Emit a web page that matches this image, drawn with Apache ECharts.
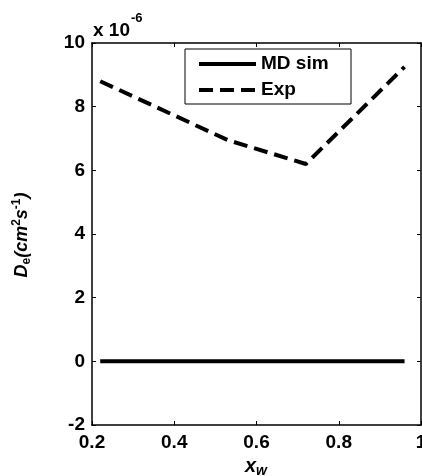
<!DOCTYPE html>
<html>
<head>
<meta charset="utf-8">
<script src="https://cdn.jsdelivr.net/npm/echarts@6/dist/echarts.min.js"></script>
<style>
  html, body { margin: 0; padding: 0; background: #fff; }
  #chart { width: 422px; height: 476px; }
</style>
</head>
<body>
<div id="chart"></div>
<script>
// Water mole fraction samples
const xw = [0.22, 0.53, 0.72, 0.96];
// Diffusion coefficient, in units of 1e-6 cm^2/s
const mdSim = [0, 0, 0, 0];
const expData = [8.8, 6.95, 6.2, 9.25];
const seriesNames = ['MD sim', 'Exp'];
const xTicks = [0.2, 0.4, 0.6, 0.8, 1];
const yTicks = [-2, 0, 2, 4, 6, 8, 10];

const FONT = 'Liberation Sans, Arial, sans-serif';
const chart = echarts.init(document.getElementById('chart'));

const tickLabel = {
  color: '#000', fontFamily: FONT, fontWeight: 'bold', fontSize: 19
};
const axisLine = { show: true, onZero: false, lineStyle: { color: '#000', width: 1.5 } };
const tickIn = { show: true, inside: true, length: 4, lineStyle: { color: '#000', width: 1 } };

chart.setOption({
  backgroundColor: '#fff',
  animation: false,
  grid: { left: 92, right: 1, top: 43, bottom: 51, containLabel: false, outerBoundsMode: 'none' },
  legend: {
    orient: 'vertical',
    left: 185, top: 49,
    padding: [5, 8, 4, 12],
    itemGap: 6,
    itemWidth: 57, itemHeight: 20,
    borderColor: '#000', borderWidth: 1,
    backgroundColor: '#fff',
    data: seriesNames,
    itemStyle: { opacity: 0 },
    lineStyle: { width: 4, cap: 'butt' },
    textStyle: { color: '#000', fontFamily: FONT, fontWeight: 'bold', fontSize: 19, lineHeight: 20, width: 82 }
  },
  xAxis: [
    {
      type: 'value', min: xTicks[0], max: xTicks[xTicks.length - 1], interval: 0.2,
      axisLine, axisTick: tickIn, splitLine: { show: false },
      axisLabel: Object.assign({ margin: 8, formatter: v => (Math.abs(v - 1) < 1e-9 ? '1' : v.toFixed(1)) }, tickLabel)
    },
    {
      type: 'value', position: 'top', min: xTicks[0], max: xTicks[xTicks.length - 1], interval: 0.2,
      axisLine, axisTick: tickIn, splitLine: { show: false }, axisLabel: { show: false }
    }
  ],
  yAxis: [
    {
      type: 'value', min: yTicks[0], max: yTicks[yTicks.length - 1], interval: 2,
      axisLine, axisTick: tickIn, splitLine: { show: false },
      axisLabel: Object.assign({ margin: 7 }, tickLabel)
    },
    {
      type: 'value', position: 'right', min: yTicks[0], max: yTicks[yTicks.length - 1], interval: 2,
      axisLine, axisTick: tickIn, splitLine: { show: false }, axisLabel: { show: false }
    }
  ],
  series: [
    {
      name: seriesNames[0], type: 'line', symbol: 'none',
      data: xw.map((x, i) => [x, mdSim[i]]),
      lineStyle: { color: '#000', width: 4, cap: 'butt' },
      itemStyle: { color: '#000' }
    },
    {
      name: seriesNames[1], type: 'line', symbol: 'none',
      data: xw.map((x, i) => [x, expData[i]]),
      lineStyle: { color: '#000', width: 4, type: [14, 7], cap: 'butt' },
      itemStyle: { color: '#000' }
    }
  ],
  graphic: [
    {
      type: 'text', left: 93, top: 12,
      style: {
        text: '{a|x 10}{s|-6}',
        rich: {
          a: { fontFamily: FONT, fontWeight: 'bold', fontSize: 19, fill: '#000', lineHeight: 28, verticalAlign: 'bottom' },
          s: { fontFamily: FONT, fontWeight: 'bold', fontSize: 13, fill: '#000', lineHeight: 28, verticalAlign: 'top', padding: [0, 0, 0, 1] }
        }
      }
    },
    {
      type: 'text', x: 22, y: 235, rotation: Math.PI / 2,
      style: {
        text: '{m|D}{sb|e}{m|(cm}{sp|2}{m|s}{sp|-1}{m|)}',
        align: 'center', verticalAlign: 'middle',
        rich: {
          m: { fontFamily: FONT, fontWeight: 'bold', fontStyle: 'italic', fontSize: 18, fill: '#000', lineHeight: 22, verticalAlign: 'middle' },
          sb: { fontFamily: FONT, fontWeight: 'bold', fontSize: 12, fill: '#000', lineHeight: 12, verticalAlign: 'bottom' },
          sp: { fontFamily: FONT, fontWeight: 'bold', fontSize: 12, fill: '#000', lineHeight: 12, verticalAlign: 'top' }
        }
      }
    },
    {
      type: 'text', x: 256, y: 466,
      style: {
        text: '{m|x}{sb|w}',
        align: 'center', verticalAlign: 'middle',
        rich: {
          m: { fontFamily: FONT, fontWeight: 'bold', fontStyle: 'italic', fontSize: 20, fill: '#000', lineHeight: 24, verticalAlign: 'middle' },
          sb: { fontFamily: FONT, fontWeight: 'bold', fontStyle: 'italic', fontSize: 14, fill: '#000', lineHeight: 12, verticalAlign: 'bottom' }
        }
      }
    }
  ]
});
</script>
</body>
</html>
